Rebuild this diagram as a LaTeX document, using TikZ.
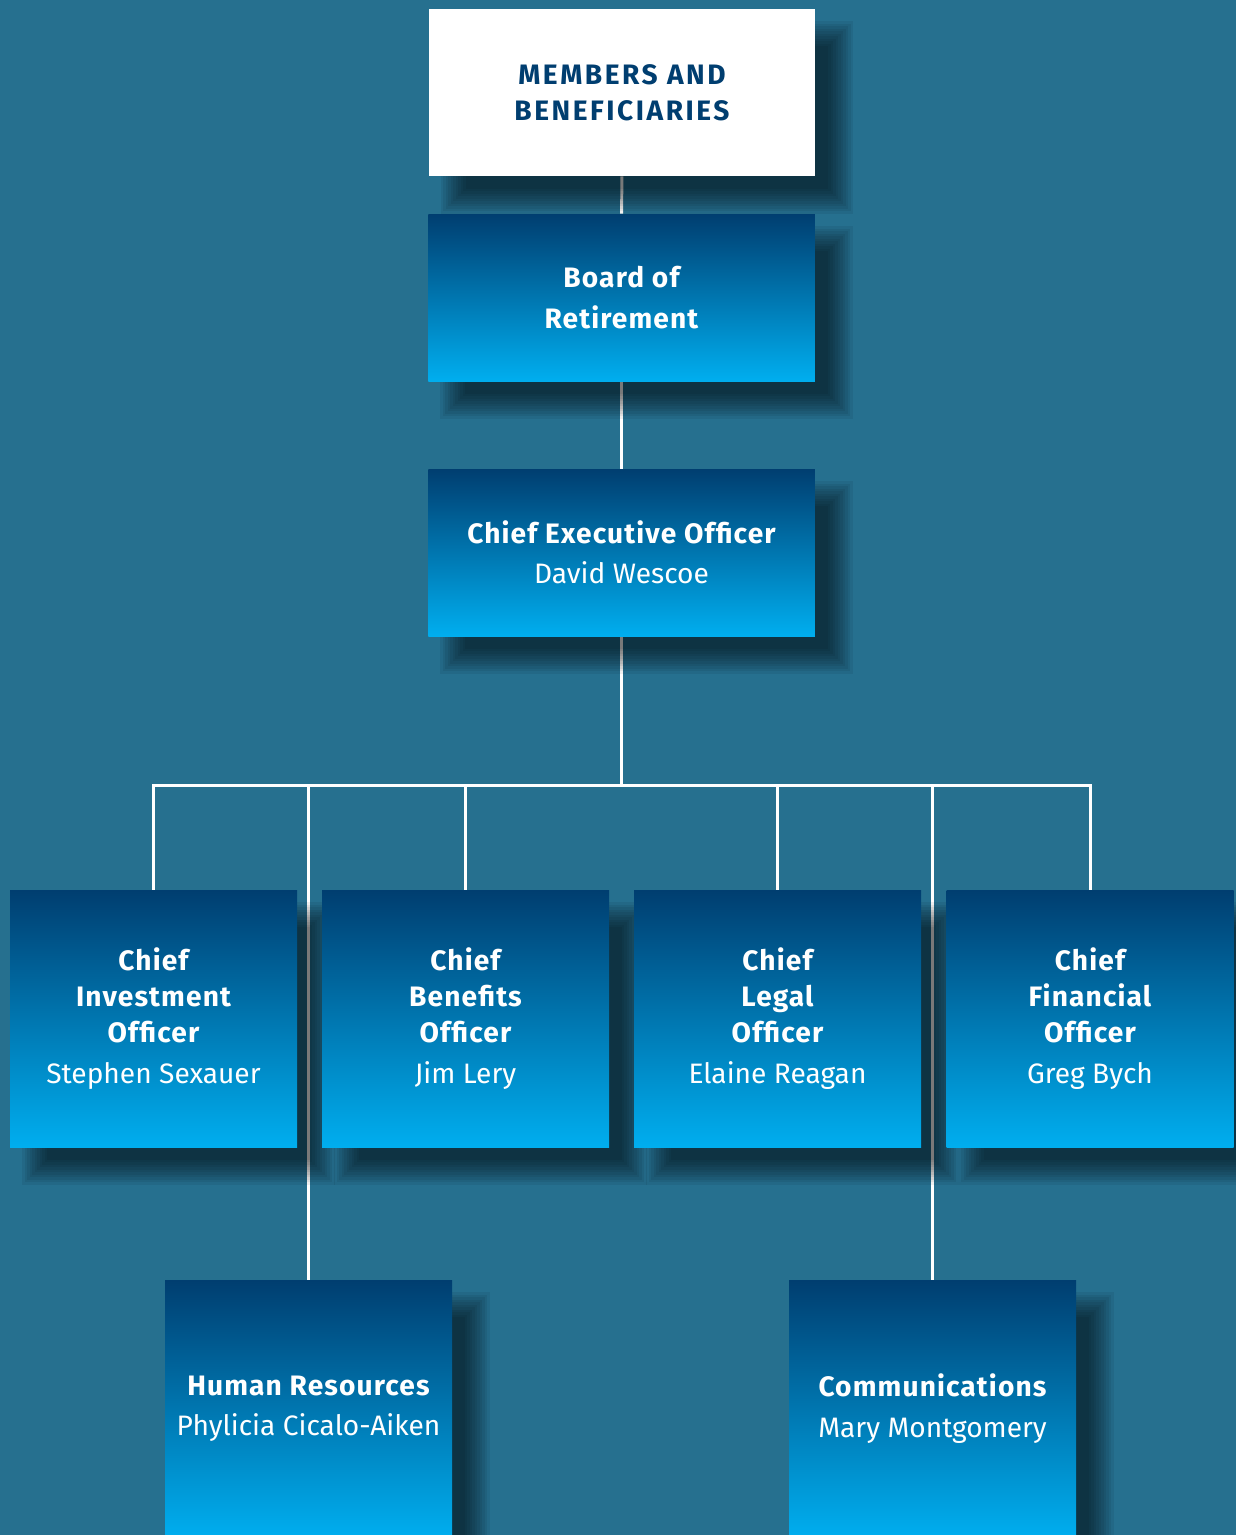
\documentclass[tikz,border=0pt]{standalone}
\usepackage{fontspec}
\setmainfont{Fira Sans}[BoldFeatures={LetterSpace=4}]
\newfontfamily\spacedfont[LetterSpace=9]{Fira Sans}
\definecolor{pagebg}{RGB}{38,112,143}
\definecolor{boxtop}{RGB}{0,62,112}
\definecolor{boxbot}{RGB}{0,174,239}
\definecolor{navy}{RGB}{0,62,112}
\pgfdeclarelayer{bg}
\pgfdeclarelayer{shade}
\pgfsetlayers{bg,shade,main}

\begin{document}
\begin{tikzpicture}[
  cell/.style={minimum width=7.73cm, minimum height=3.34cm, inner sep=0pt,
    text=white, align=center, font=\fontsize{16}{20.5}\selectfont\bfseries},
  box/.style={cell, top color=boxtop, bottom color=boxbot},
  unit/.style={box, minimum width=5.74cm, minimum height=5.14cm},
  conn/.style={draw=white, line width=1.7pt},
  drop/.style={fill=black, opacity=0.062}
]
  \useasboundingbox (0,0) rectangle (24.72,-30.7);

  % top of the chart
  \node[cell, fill=white, text=navy, font=\fontsize{16}{20.5}\spacedfont\bfseries]
    (members) at (12.44,-1.85) {MEMBERS AND\\BENEFICIARIES};
  \node[box] (board) at (12.43,-5.95) {Board of\\[2.5pt]Retirement};
  \node[box] (ceo) at (12.43,-11.05) {Chief Executive Officer\\[2.5pt]\mdseries David Wescoe};

  % chiefs
  \node[unit] (cio) at (3.07,-20.37)
    {Chief\\Investment\\Officer\\[2.5pt]\mdseries Stephen Sexauer};
  \node[unit] (cbo) at (9.31,-20.37)
    {Chief\\Benefits\\Officer\\[2.5pt]\mdseries Jim Lery};
  \node[unit] (clo) at (15.55,-20.37)
    {Chief\\Legal\\Officer\\[2.5pt]\mdseries Elaine Reagan};
  \node[unit] (cfo) at (21.80,-20.37)
    {Chief\\Financial\\Officer\\[2.5pt]\mdseries Greg Bych};

  % staff
  \node[unit] (hr) at (6.17,-28.17)
    {Human Resources\\[2.5pt]\mdseries Phylicia Cicalo-Aiken};
  \node[unit] (comm) at (18.65,-28.17)
    {Communications\\[2.5pt]\mdseries Mary Montgomery};

  % soft shadows
  \begin{pgfonlayer}{shade}
    \foreach \n in {members,board,ceo,cio,cbo,clo,cfo,hr,comm}
      \foreach \k in {0,...,10}
        \fill[drop] ([shift={(0.25+\k*0.05,-0.75+\k*0.05)}]\n.south west)
          rectangle ([shift={(0.75-\k*0.05,-0.25-\k*0.05)}]\n.north east);
  \end{pgfonlayer}

  % page and connectors
  \begin{pgfonlayer}{bg}
    \fill[pagebg] (0,0) rectangle (24.72,-30.7);
    \coordinate (bar) at (12.43,-15.7);
    \draw[conn] (members) -- (board);
    \draw[conn] (board) -- (ceo);
    \draw[conn] (ceo.south) -- (bar);
    \draw[conn] (cio.north) |- (bar) -| (cfo.north);
    \foreach \n in {cbo,clo,hr,comm}
      \draw[conn] (\n.north) -- (\n.north |- bar);
  \end{pgfonlayer}
\end{tikzpicture}
\end{document}
